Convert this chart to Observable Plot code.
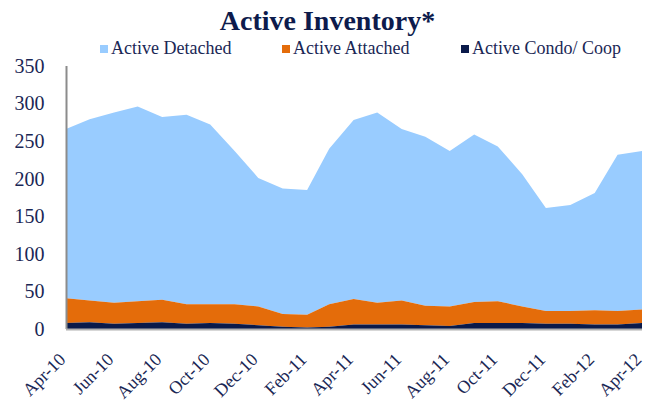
<!DOCTYPE html>
<html>
<head>
<meta charset="utf-8">
<script src="https://cdn.jsdelivr.net/npm/d3@7"></script>
<script src="https://cdn.jsdelivr.net/npm/@observablehq/plot@0.6"></script>
<style>
  html, body { margin: 0; padding: 0; background: #fff; }
  #wrap { position: relative; width: 647px; height: 406px; overflow: hidden; font-family: "Liberation Serif", "DejaVu Serif", serif; color: #0d1b4c; }
  #title { position: absolute; left: 4px; top: 3px; width: 647px; text-align: center; font-weight: bold; font-size: 28px; line-height: 36px; color: #0d1b4c; }
  #legend { position: absolute; top: 37px; left: 0; width: 647px; height: 22px; font-size: 18px; line-height: 22px; }
  .item { position: absolute; top: 0; white-space: nowrap; color: #1a2755; }
  .sw { display: inline-block; width: 8px; height: 8px; margin-right: 3px; vertical-align: 1px; }
  #chart { position: absolute; left: 0; top: 58px; }
  #chart svg { overflow: visible; }
</style>
</head>
<body>
<div id="wrap">
  <div id="title">Active Inventory*</div>
  <div id="legend"></div>
  <div id="chart"></div>
</div>
<script>
const months = ["2010-04","2010-05","2010-06","2010-07","2010-08","2010-09","2010-10","2010-11","2010-12",
  "2011-01","2011-02","2011-03","2011-04","2011-05","2011-06","2011-07","2011-08","2011-09","2011-10","2011-11","2011-12",
  "2012-01","2012-02","2012-03","2012-04"];
const seriesNames = ["Active Detached", "Active Attached", "Active Condo/ Coop"];
const detached = [225,241,253,259,243,252,239,204,171,167,166,207,238,253,228,225,207,223,206,176,137,141,156,208,211];
const attached = [33,29,28,29,30,26,25,26,25,17,17,30,34,29,32,26,26,28,29,22,17,17,19,18,18];
const condo    = [8,9,7,8,9,7,8,7,5,3,2,3,6,6,6,5,4,8,8,8,7,7,6,6,8];
const colors = ["#99ccff", "#e46c0a", "#0a1a4a"];
const yTicks = [0,50,100,150,200,250,300,350];
const xTickMonths = ["2010-04","2010-06","2010-08","2010-10","2010-12","2011-02","2011-04","2011-06","2011-08","2011-10","2011-12","2012-02","2012-04"];

const parse = d3.utcParse("%Y-%m");
const values = [detached, attached, condo];
const data = [];
seriesNames.forEach((s, si) => {
  months.forEach((m, i) => data.push({date: parse(m), series: s, value: values[si][i]}));
});

// legend
const legendX = [100, 282, 461];
const leg = document.getElementById("legend");
seriesNames.forEach((s, i) => {
  const el = document.createElement("div");
  el.className = "item";
  el.style.left = legendX[i] + "px";
  el.innerHTML = `<span class="sw" style="background:${colors[i]}"></span>${s}`;
  leg.appendChild(el);
});

const fmt = d3.utcFormat("%b-%y");
const plot = Plot.plot({
  width: 647,
  height: 348,
  marginTop: 8,
  marginLeft: 66,
  marginRight: 5,
  marginBottom: 77,
  style: {fontFamily: "'Liberation Serif', serif", color: "#1a2755", background: "white", overflow: "visible"},
  x: {type: "utc", domain: [parse(months[0]), parse(months[months.length - 1])]},
  y: {domain: [0, 350]},
  color: {domain: seriesNames, range: colors},
  marks: [
    Plot.areaY(data, Plot.stackY({
      x: "date", y: "value", fill: "series", z: "series",
      order: ["Active Condo/ Coop", "Active Attached", "Active Detached"]
    })),
    Plot.ruleX([parse(months[0])], {stroke: "#8c8c8c", strokeWidth: 2}),
    Plot.ruleY([0], {stroke: "#b0b0b0", strokeWidth: 2}),
    Plot.axisY(yTicks, {tickSize: 0, tickPadding: 22, fontSize: 20, fill: "#1a2755", label: null}),
    Plot.axisX(xTickMonths.map(parse), {tickSize: 0, tickPadding: 27, tickRotate: -45, fontSize: 18, dx: -4, fill: "#1a2755", tickFormat: fmt, label: null})
  ]
});
document.getElementById("chart").appendChild(plot);
</script>
</body>
</html>
